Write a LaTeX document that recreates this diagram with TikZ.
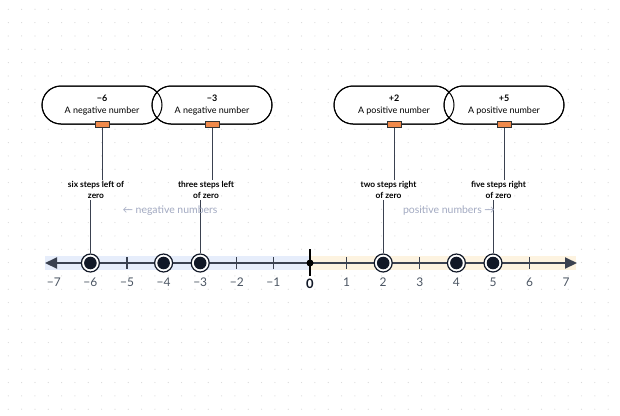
\documentclass[tikz,border=0pt]{standalone}
\usepackage{fontspec}
\setmainfont{Lato}
\usetikzlibrary{arrows.meta,calc}
\definecolor{gridc}{HTML}{DADADA}
\definecolor{linec}{HTML}{3A4150}
\definecolor{navy}{HTML}{111827}
\definecolor{numc}{HTML}{4B5563}
\definecolor{bandblue}{HTML}{E6EDFB}
\definecolor{bandorange}{HTML}{FDF3E0}
\definecolor{portc}{HTML}{F08A4B}
\definecolor{hintc}{HTML}{A3AAC2}
\tikzset{
  pill/.style={draw=black,line width=1bp,rounded corners=19bp,minimum width=120bp,minimum height=38bp,inner sep=0pt,align=center,font=\fontsize{9}{12}\selectfont},
  port/.style={draw=black!80,fill=portc,line width=0.8bp,minimum width=14bp,minimum height=6bp,inner sep=0pt},
  lbl/.style={align=center,font=\bfseries\fontsize{8.4}{11}\selectfont,inner sep=1bp},
  conn/.style={draw=linec,line width=1bp},
  ticklbl/.style={text=numc,font=\fontsize{12}{14}\selectfont},
  hint/.style={text=hintc,font=\fontsize{10.5}{12}\selectfont},
  pt/.style={circle,draw=navy,line width=1.2bp,fill=white,minimum size=18bp,inner sep=0pt,
     path picture={\fill[navy] (path picture bounding box.center) circle (6.3bp);}},
  tickm/.style={draw=linec,line width=1.2bp}
}
\begin{document}
\begin{tikzpicture}[x=1bp,y=-1bp]
\useasboundingbox (0,0) rectangle (620,415);
\fill[white] (0,0) rectangle (620,415);
% dot grid
\foreach \i in {0,...,46}{
  \foreach \j in {0,...,30}{
    \fill[gridc] ({8.3+13.33*\i},{9.3+13.33*\j}) circle (0.6);
  }
}
% bands
\fill[bandblue] (45,256) rectangle (310,270);
\fill[bandorange] (310,256) rectangle (576,270);
% number line
\coordinate (L) at (45,263);
\coordinate (R) at (577,263);
\draw[draw=linec,line width=2bp,{Triangle[length=12bp,width=11bp]}-{Triangle[length=12bp,width=11bp]}] (L) -- (R);
% ticks and labels
\foreach \n in {-7,...,7}{
  \coordinate (t\n) at ({310+36.6*\n},263);
}
\foreach \n in {-5,-2,-1,1,3,6}{
  \draw[tickm] ($(t\n)+(0,-6)$) -- ($(t\n)+(0,6)$);
}
\foreach \n/\s in {-7/−7,-6/−6,-5/−5,-4/−4,-3/−3,-2/−2,-1/−1,1/1,2/2,3/3,4/4,5/5,6/6,7/7}{
  \node[ticklbl] (n\n) at ($(t\n)+(0,19)$) {\s};
}
\draw[draw=black,line width=2bp] ($(t0)+(0,-14)$) -- ($(t0)+(0,13)$);
\fill[black] (t0) circle (3.5);
\node[font=\bfseries\fontsize{13}{15}\selectfont,text=navy] (n0) at ($(t0)+(0,21)$) {0};
% points
\foreach \n in {-6,-4,-3,2,4,5}{
  \node[pt] (p\n) at (t\n) {};
}
% boxes
\node[pill,fill=white] (b1) at (102,105) {};
\node[pill,fill=white] (b2) at (212,105) {};
\node[pill,fill=white] (b3) at (394,105) {};
\node[pill,fill=white] (b4) at (504,105) {};
\foreach \b/\t/\u in {b1/−6/A negative number,b2/−3/A negative number,b3/+2/A positive number,b4/+5/A positive number}{
  \node[pill] at (\b) {{\bfseries \t}\\\u};
}
\node[port] (q1) at (b1.south) {};
\node[port] (q2) at (b2.south) {};
\node[port] (q3) at (b3.south) {};
\node[port] (q4) at (b4.south) {};
% labels
\node[lbl] (l1) at (96,190) {six steps left of\\zero};
\node[lbl] (l2) at (206,190) {three steps left\\of zero};
\node[lbl] (l3) at (388.5,190) {two steps right\\of zero};
\node[lbl] (l4) at (498.5,190) {five steps right\\of zero};
% connectors
\draw[conn] (q1.south) -- (q1.south |- l1.north);
\draw[conn] (p-6.north |- l1.south) -- (p-6.north);
\draw[conn] (q2.south) -- (q2.south |- l2.north);
\draw[conn] (p-3.north |- l2.south) -- (p-3.north);
\draw[conn] (q3.south) -- (q3.south |- l3.north);
\draw[conn] (p2.north |- l3.south) -- (p2.north);
\draw[conn] (q4.south) -- (q4.south |- l4.north);
\draw[conn] (p5.north |- l4.south) -- (p5.north);
% hints
\node[hint] (hn) at (170,211) {← negative numbers};
\node[hint] (hp) at (449,211) {positive numbers →};
\end{tikzpicture}
\end{document}
